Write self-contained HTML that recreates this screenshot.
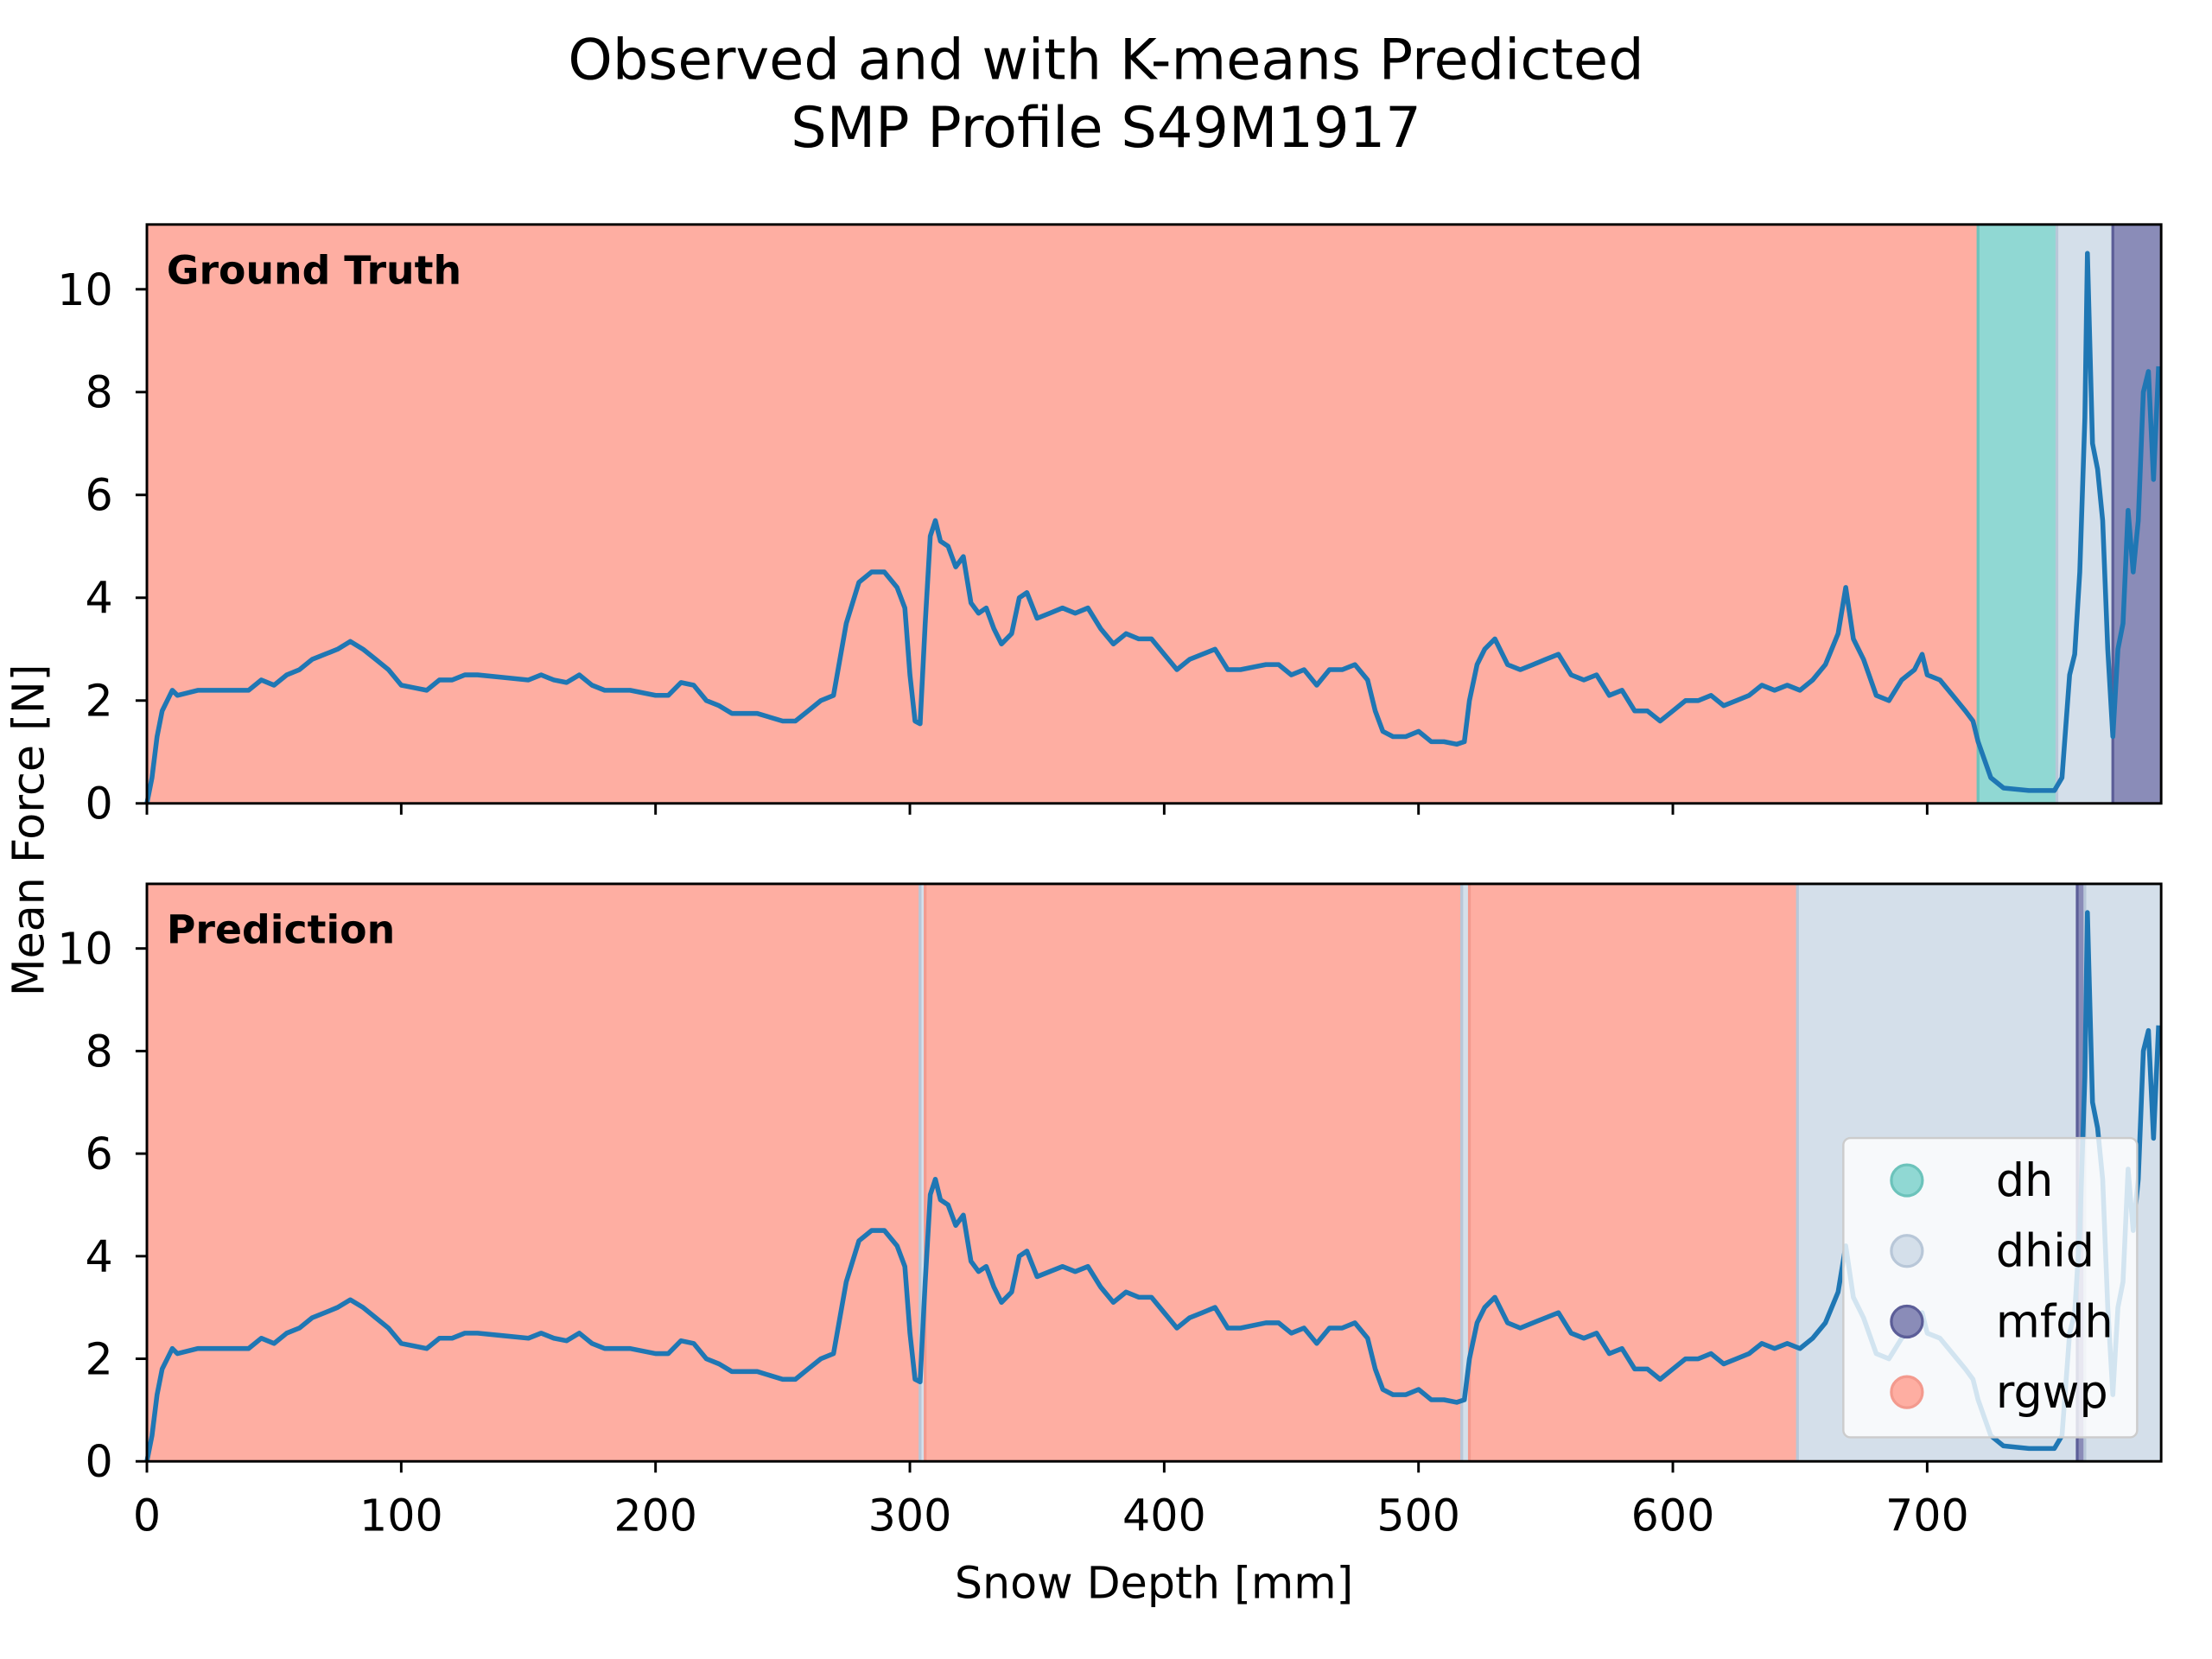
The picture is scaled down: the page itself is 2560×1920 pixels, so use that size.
<!DOCTYPE html>
<html><head><meta charset="utf-8"><style>html,body{margin:0;padding:0;background:#fff}svg{display:block}</style></head>
<body>
<svg id="chart" width="2560" height="1920" viewBox="0 0 1566 1175" preserveAspectRatio="none" xmlns="http://www.w3.org/2000/svg" font-family="'DejaVu Sans','Liberation Sans',sans-serif">
<rect width="1566" height="1175" fill="#fff"/>
<text x="783" y="56" font-size="40" text-anchor="middle">Observed and with K-means Predicted</text>
<text x="783" y="104" font-size="40" text-anchor="middle">SMP Profile S49M1917</text>
<g id="top"></g>
<g id="bot"></g>
<text transform="translate(31,588) rotate(-90)" font-size="31" text-anchor="middle">Mean Force [N]</text>
<text x="817" y="1132" font-size="31" text-anchor="middle">Snow Depth [mm]</text>
</svg>
<script>
const depth=[0,2,4,6,8,10,12,20,30,40,45,50,55,60,65,70,75,80,85,90,95,100,105,110,115,120,125,130,140,150,155,160,165,170,175,180,190,200,205,210,215,220,225,230,240,250,255,260,265,270,275,280,285,290,295,298,300,302,304,306,308,310,312,315,318,321,324,327,330,333,336,340,343,346,350,355,360,365,370,375,380,385,390,395,400,405,410,415,420,425,430,440,445,450,455,460,465,470,475,480,483,486,490,495,500,505,510,515,518,520,523,526,530,535,540,545,550,555,560,565,570,575,580,585,590,595,600,605,610,615,620,625,630,635,640,645,650,655,660,665,668,671,675,680,685,690,695,698,700,705,710,715,718,720,725,730,740,750,753,756,758,760,762,763,765,767,769,771,773,775,777,779,781,783,785,787,789,791];
const force=[0,0.5,1.3,1.8,2.0,2.2,2.1,2.2,2.2,2.2,2.4,2.3,2.5,2.6,2.8,2.9,3.0,3.15,3.0,2.8,2.6,2.3,2.25,2.2,2.4,2.4,2.5,2.5,2.45,2.4,2.5,2.4,2.35,2.5,2.3,2.2,2.2,2.1,2.1,2.35,2.3,2.0,1.9,1.75,1.75,1.6,1.6,1.8,2.0,2.1,3.5,4.3,4.5,4.5,4.2,3.8,2.5,1.6,1.55,3.5,5.2,5.5,5.1,5.0,4.6,4.8,3.9,3.7,3.8,3.4,3.1,3.3,4.0,4.1,3.6,3.7,3.8,3.7,3.8,3.4,3.1,3.3,3.2,3.2,2.9,2.6,2.8,2.9,3.0,2.6,2.6,2.7,2.7,2.5,2.6,2.3,2.6,2.6,2.7,2.4,1.8,1.4,1.3,1.3,1.4,1.2,1.2,1.15,1.2,2.0,2.7,3.0,3.2,2.7,2.6,2.7,2.8,2.9,2.5,2.4,2.5,2.1,2.2,1.8,1.8,1.6,1.8,2.0,2.0,2.1,1.9,2.0,2.1,2.3,2.2,2.3,2.2,2.4,2.7,3.3,4.2,3.2,2.8,2.1,2.0,2.4,2.6,2.9,2.5,2.4,2.1,1.8,1.6,1.2,0.5,0.3,0.25,0.25,0.5,2.5,2.9,4.5,7.5,10.7,7.0,6.5,5.5,3.0,1.3,3.0,3.5,5.7,4.5,5.5,8.0,8.4,6.3,8.5];
const truthStart=[0,720,751,773];
const truthEnd=[720,751,773,792];
const truthCls=["rgwp","dh","dhid","mfdh"];
const predStart=[0,304,306,517,520,649,759,762];
const predEnd=[304,306,517,520,649,759,762,792];
const predCls=["rgwp","dhid","rgwp","dhid","rgwp","dhid","mfdh","dhid"];
const yTicks=[0,2,4,6,8,10];
const xTicks=[0,100,200,300,400,500,600,700];
const legendCls=["dh","dhid","mfdh","rgwp"];
const colors={rgwp:"#feaea2",dh:"#90d8d3",dhid:"#d4dfea",mfdh:"#8a8cb8"};
const edge={rgwp:"#f39a8e",dh:"#6cc3bb",dhid:"#b8c7d8",mfdh:"#5c5e98"};
const NS="http://www.w3.org/2000/svg";
const X0=104,X1=1530,XMAX=792,YMAX=11.26;
const sx=v=>X0+v/XMAX*(X1-X0);
function mk(p,t,a){const e=document.createElementNS(NS,t);for(const k in a)e.setAttribute(k,a[k]);p.appendChild(e);return e;}
function panel(g,top,bottom,starts,ends,cls,label,showX){
  const sy=v=>bottom-v/YMAX*(bottom-top);
  for(let i=0;i<starts.length;i++){
    const r=mk(g,"rect",{x:sx(starts[i]),y:top,width:sx(ends[i])-sx(starts[i]),height:bottom-top,fill:colors[cls[i]]});
    
    
    if(i>0){const l=mk(g,"line",{x1:sx(starts[i]),x2:sx(starts[i]),y1:top,y2:bottom,stroke:edge[cls[i]],"stroke-width":2});
      
      }
  }
  const pts=depth.map((d,i)=>sx(d).toFixed(1)+","+sy(force[i]).toFixed(1)).join(" ");
  const pl=mk(g,"polyline",{points:pts,fill:"none",stroke:"#1f77b4","stroke-width":3.4,"stroke-linejoin":"round"});
  
  
  const fr=mk(g,"rect",{x:X0,y:top,width:X1-X0,height:bottom-top,fill:"none",stroke:"#000","stroke-width":1.8});
  
  
  yTicks.forEach(v=>{
    mk(g,"line",{x1:X0-8,x2:X0,y1:sy(v),y2:sy(v),stroke:"#000","stroke-width":1.8});
    const t=mk(g,"text",{x:X0-24,y:sy(v)+11,"font-size":31,"text-anchor":"end"});t.textContent=v;
    
    
  });
  xTicks.forEach(v=>{
    mk(g,"line",{x1:sx(v),x2:sx(v),y1:bottom,y2:bottom+8,stroke:"#000","stroke-width":1.8});
    if(showX){const t=mk(g,"text",{x:sx(v),y:bottom+49,"font-size":31,"text-anchor":"middle"});t.textContent=v;
      
      }
  });
  const lb=mk(g,"text",{x:118,y:top+42,"font-size":28,"font-weight":"bold"});lb.textContent=label;
  
  
}
panel(document.getElementById("top"),159,569,truthStart,truthEnd,truthCls,"Ground Truth",false);
const bg=document.getElementById("bot");
panel(bg,626,1035,predStart,predEnd,predCls,"Prediction",true);
const lg=mk(bg,"g",{});


mk(lg,"rect",{x:1305,y:806,width:208,height:212,rx:5,fill:"#fff","fill-opacity":0.8,stroke:"#ccc","stroke-width":1.5});
legendCls.forEach((c,i)=>{
  const y=836+i*50;
  const e=mk(lg,"g",{});
  
  
  mk(e,"circle",{cx:1350,cy:y,r:11,fill:colors[c],stroke:edge[c],"stroke-width":2});
  const t=mk(e,"text",{x:1413,y:y+11,"font-size":32});t.textContent=c;
});
</script>
</body></html>
